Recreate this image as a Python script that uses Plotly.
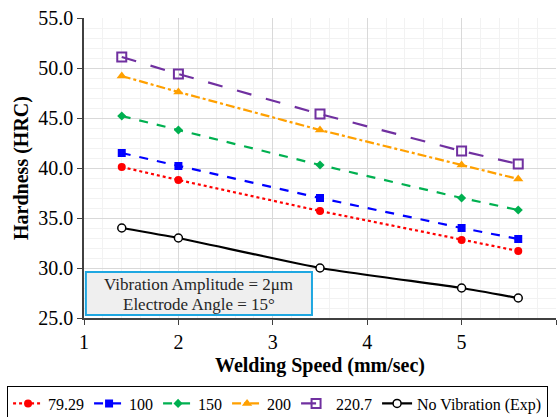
import plotly.graph_objects as go

speed = [1.4, 2, 3.5, 5, 5.6]
h_79 = [40.1, 38.8, 35.7, 32.8, 31.7]
h_100 = [41.5, 40.2, 37.0, 34.0, 32.9]
h_150 = [45.2, 43.8, 40.3, 37.0, 35.8]
h_200 = [49.2, 47.6, 43.8, 40.3, 38.9]
h_220 = [51.1, 49.4, 45.4, 41.7, 40.4]
h_novib = [34.0, 33.0, 30.0, 28.0, 27.0]

names = ["79.29", "100", "150", "200", "220.7", "No Vibration (Exp)"]

FONT = "Liberation Serif"

fig = go.Figure()

series = [
    (h_79, names[0], "#FF0000", "dot", dict(symbol="circle", size=8, color="#FF0000")),
    (h_100, names[1], "#0000FF", "dash", dict(symbol="square", size=8, color="#0000FF")),
    (h_150, names[2], "#00B050", "dash", dict(symbol="diamond", size=7, color="#00B050")),
    (h_200, names[3], "#FFA000", "dashdot", dict(symbol="triangle-up", size=9, color="#FFA000")),
    (h_220, names[4], "#7030A0", "longdash", dict(symbol="square-open", size=9, color="#7030A0", line=dict(width=2, color="#7030A0"))),
]
for ys, nm, col, dash, mk in series:
    fig.add_trace(go.Scatter(x=speed, y=ys, name=nm, mode="lines+markers",
                             line=dict(color=col, dash=dash, width=2.2), marker=mk))

fig.add_trace(go.Scatter(x=speed, y=h_novib, name=names[5], mode="lines+markers",
                         line=dict(color="#000000", width=2.2, shape="spline", smoothing=0.5),
                         marker=dict(symbol="circle", size=8, color="#FFFFFF",
                                     line=dict(color="#000000", width=1.5))))

fig.add_shape(type="rect", xref="paper", yref="paper", x0=0.004, x1=0.483, y0=0.01, y1=0.153,
              line=dict(color="#1EA7E1", width=2), fillcolor="#EFEFEF", layer="above")
for txt, yy in [("Vibration Amplitude = 2μm", 0.113), ("Electrode Angle = 15°", 0.045)]:
    fig.add_annotation(xref="paper", yref="paper", x=0.243, y=yy, xanchor="center", yanchor="middle",
                       showarrow=False, text=txt,
                       font=dict(family=FONT, size=17, color="#262626"))

fig.update_layout(
    width=560, height=417,
    margin=dict(l=84, r=4, t=18, b=99, autoexpand=False),
    paper_bgcolor="white", plot_bgcolor="white",
    font=dict(family=FONT, size=20, color="#000000"),
    showlegend=True,
    legend=dict(orientation="h", x=-0.163, xanchor="left", y=-0.225, yanchor="top",
                bordercolor="#000000", borderwidth=1,
                font=dict(family=FONT, size=16, color="#000000"),
                tracegroupgap=0, itemwidth=30),
    xaxis=dict(range=[1, 6], dtick=1, tick0=1, showgrid=True, gridcolor="#D9D9D9", gridwidth=1,
               minor=dict(dtick=0.2, showgrid=True, gridcolor="#F2F2F2", gridwidth=1),
               showline=True, linecolor="#404040", linewidth=1.5,
               ticks="outside", ticklen=5, tickcolor="#404040",
               tickfont=dict(family=FONT, size=20),
               title=dict(text="<b>Welding Speed (mm/sec)</b>", font=dict(family=FONT, size=20), standoff=6),
               zeroline=False),
    yaxis=dict(range=[25, 55], dtick=5, tick0=25, tickformat=".1f", showgrid=True, gridcolor="#D9D9D9", gridwidth=1,
               minor=dict(dtick=1, showgrid=True, gridcolor="#F2F2F2", gridwidth=1),
               showline=True, linecolor="#404040", linewidth=1.5,
               ticks="outside", ticklen=5, tickcolor="#404040",
               tickfont=dict(family=FONT, size=20),
               title=dict(text="<b>Hardness (HRC)</b>", font=dict(family=FONT, size=20), standoff=4),
               zeroline=False),
)

fig.write_html("out.html")
